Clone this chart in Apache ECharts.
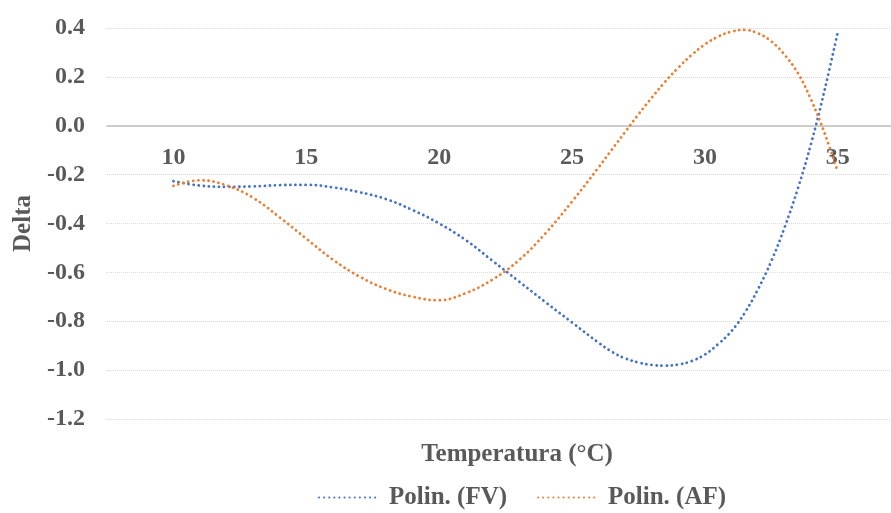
<!DOCTYPE html>
<html>
<head>
<meta charset="utf-8">
<script src="https://cdn.jsdelivr.net/npm/echarts@6/dist/echarts.min.js"></script>
<style>
  html, body { margin: 0; padding: 0; background: #fff; }
  #chart { width: 891px; height: 513px; }
</style>
</head>
<body>
<div id="chart"></div>
<script>
const chartDom = document.getElementById("chart");
const chart = echarts.init(chartDom);

// temperatura (°C)
const temps = [10, 11, 12, 13, 14, 15, 16, 17, 18, 19, 20, 21, 22, 23, 24, 25, 26, 26.5, 27, 27.5, 28, 28.5, 29, 29.5, 30, 30.5, 31, 31.5, 32, 32.5, 33, 33.5, 34, 34.5, 35];
// Polin. (FV)
const deltaFV = [-0.227, -0.245, -0.25, -0.248, -0.243, -0.242, -0.252, -0.272, -0.30, -0.345, -0.40, -0.468, -0.552, -0.637, -0.722, -0.805, -0.888, -0.925, -0.952, -0.969, -0.979, -0.982, -0.977, -0.963, -0.936, -0.893, -0.84, -0.765, -0.668, -0.553, -0.415, -0.255, -0.07, 0.145, 0.385];
// Polin. (AF)
const deltaAF = [-0.246, -0.223, -0.244, -0.295, -0.375, -0.462, -0.548, -0.617, -0.668, -0.700, -0.714, -0.685, -0.63, -0.55, -0.44, -0.31, -0.17, -0.097, -0.025, 0.047, 0.115, 0.18, 0.238, 0.29, 0.333, 0.365, 0.385, 0.392, 0.378, 0.345, 0.29, 0.215, 0.105, -0.03, -0.19];

const xTicks = [10, 15, 20, 25, 30, 35];

const font = '"Liberation Serif", "Times New Roman", serif';
const grey = '#595959';

const pairs = (ys) => temps.map((t, i) => [t, ys[i]]);

const option = {
    animation: false,
    textStyle: { fontFamily: font },
    grid: {
        left: 107,
        right: 0,
        top: 28,
        bottom: 94,
        outerBoundsMode: 'none'
    },
    legend: {
        left: 313,
        top: 480,
        itemWidth: 57,
        itemHeight: 14,
        itemGap: 30,
        itemStyle: { opacity: 0 },
        textStyle: {
            fontFamily: font,
            fontSize: 25,
            fontWeight: 'bold',
            color: grey,
            padding: [0, 0, 0, 8]
        },
        data: ['Polin. (FV)', 'Polin. (AF)']
    },
    graphic: [{
        type: 'text',
        x: 517,
        y: 455,
        style: {
            text: 'Temperatura (°C)',
            font: 'bold 25px ' + font,
            fill: grey,
            align: 'center',
            verticalAlign: 'middle'
        }
    }],
    xAxis: {
        type: 'value',
        min: 7.5,
        max: 37,
        interval: 2.5,
        axisLine: {
            onZero: true,
            lineStyle: { color: '#BFBFBF', width: 1.5 }
        },
        axisTick: { show: false },
        splitLine: { show: false },
        axisLabel: {
            margin: -273,
            fontFamily: font,
            fontSize: 24,
            fontWeight: 'bold',
            color: grey,
            showMinLabel: false,
            showMaxLabel: false,
            formatter: (v) => xTicks.includes(v) ? String(v) : ''
        }
    },
    yAxis: {
        type: 'value',
        min: -1.2,
        max: 0.4,
        interval: 0.2,
        name: 'Delta',
        nameLocation: 'middle',
        nameGap: 71,
        nameTextStyle: {
            fontFamily: font,
            fontSize: 25,
            fontWeight: 'bold',
            color: grey
        },
        axisLine: { show: false },
        axisTick: { show: false },
        splitLine: {
            lineStyle: { color: '#D9D9D9', type: 'dotted', width: 1 }
        },
        axisLabel: {
            margin: 22,
            fontFamily: font,
            fontSize: 24,
            fontWeight: 'bold',
            color: grey,
            formatter: (v) => v.toFixed(1)
        }
    },
    series: [{
            name: 'Polin. (FV)',
            type: 'line',
            data: pairs(deltaFV),
            smooth: 0.4,
            symbol: 'none',
            color: '#4472C4',
            lineStyle: {
                color: '#4472C4',
                width: 2.8,
                type: [0.1, 5],
                cap: 'round'
            }
        },
        {
            name: 'Polin. (AF)',
            type: 'line',
            data: pairs(deltaAF),
            smooth: 0.4,
            symbol: 'none',
            color: '#ED7D31',
            lineStyle: {
                color: '#ED7D31',
                width: 2.8,
                type: [0.1, 5],
                cap: 'round'
            }
        }
    ]
};

chart.setOption(option);
</script>
</body>
</html>
